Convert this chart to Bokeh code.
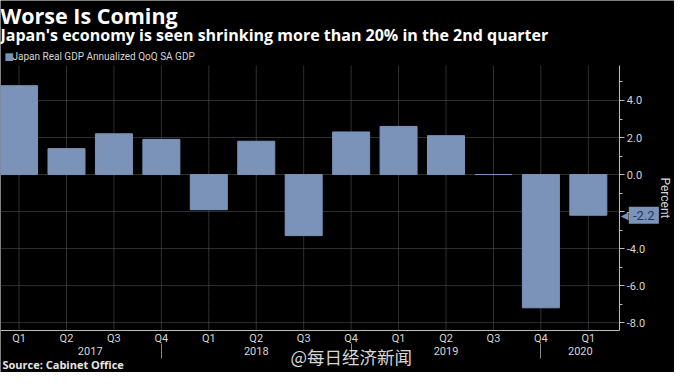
from bokeh.plotting import figure
from bokeh.models import Label, FixedTicker, LinearAxis, Range1d, NumeralTickFormatter
from bokeh.embed import file_html
from bokeh.resources import INLINE

# ---- data ----
quarters = ["Q1", "Q2", "Q3", "Q4", "Q1", "Q2", "Q3", "Q4", "Q1", "Q2", "Q3", "Q4", "Q1"]
years = ["2017", "2018", "2019", "2020"]
gdp = [4.8, 1.4, 2.2, 1.9, -1.9, 1.8, -3.3, 2.3, 2.6, 2.1, 0.0, -7.2, -2.2]
y_ticks = [-8, -6, -4, -2, 0, 2, 4]
y_minor = [-7, -5, -3, -1, 1, 3, 5]
title = "Worse Is Coming"
subtitle = "Japan's economy is seen shrinking more than 20% in the 2nd quarter"
series_name = "Japan Real GDP Annualized QoQ SA GDP"
source = "Source: Cabinet Office"
watermark = "@每日经济新闻"

# ---- style / layout ----
BG = "#000000"
BAR = "#7b93b9"
GRID = "#5e5e5e"
AXIS = "#bdbdbd"
TXT = "#d6d6d6"

W, H = 674, 372
PX_X, PX_Y = 47.44, 18.51          # pixels per quarter / per percentage point
CH_LEFT, CH_RIGHT, CH_TOP = 0.0, 619.3, 65.2   # chart area in canvas px
cx0 = -0.391                        # data x at chart left
cx1 = cx0 + (CH_RIGHT - CH_LEFT) / PX_X
cy1, cy0 = 5.88, -8.42              # data y at chart top / bottom
CH_BOTTOM = CH_TOP + (cy1 - cy0) * PX_Y

X0 = cx0 - CH_LEFT / PX_X
X1 = X0 + W / PX_X
Y1 = cy1 + CH_TOP / PX_Y
Y0 = Y1 - H / PX_Y

def ydata(fig_y):
    return Y1 - fig_y / PX_Y

idx = list(range(len(gdp)))

p = figure(width=W, height=H, output_backend="svg", toolbar_location=None,
           x_range=Range1d(X0, X1), y_range=Range1d(Y0, Y1),
           x_axis_location=None, y_axis_location=None, min_border=0)
p.min_border_left = p.min_border_right = p.min_border_top = p.min_border_bottom = 0
p.background_fill_color = BG
p.border_fill_color = BG
p.outline_line_color = None
p.grid.visible = False

# dotted grid lines inside the chart area
p.segment(x0=idx, x1=idx, y0=[cy0] * len(idx), y1=[cy1] * len(idx),
          line_color=GRID, line_dash="1 1", line_width=1)
p.segment(x0=[cx0] * len(y_ticks), x1=[cx1] * len(y_ticks), y0=y_ticks, y1=y_ticks,
          line_color=GRID, line_dash="1 1", line_width=1)

p.vbar(x=idx, top=gdp, bottom=0, width=0.78, fill_color=BAR, line_color=BAR, line_width=1)

# right axis (fixed at chart edge)
ya = LinearAxis(fixed_location=cx1, bounds=(cy0, cy1),
                ticker=FixedTicker(ticks=y_ticks, minor_ticks=y_minor),
                formatter=NumeralTickFormatter(format="0.0"))
ya.axis_line_color = AXIS
ya.major_tick_line_color = AXIS
ya.minor_tick_line_color = AXIS
ya.major_tick_in = 0
ya.major_tick_out = 5
ya.minor_tick_in = 0
ya.minor_tick_out = 3
ya.major_label_standoff = 2
ya.major_label_text_color = TXT
ya.major_label_text_font = "Roboto"
ya.major_label_text_font_size = "11px"
ya.axis_label = "Percent"
ya.axis_label_text_color = TXT
ya.axis_label_text_font = "Roboto"
ya.axis_label_text_font_style = "normal"
ya.axis_label_text_font_size = "12px"
ya.axis_label_standoff = 10
p.add_layout(ya, "right")

# bottom quarter axis
xa = LinearAxis(fixed_location=cy0, bounds=(cx0, cx1), ticker=FixedTicker(ticks=idx),
                major_label_overrides={i: q for i, q in enumerate(quarters)})
xa.axis_line_color = AXIS
xa.major_tick_in = 0
xa.major_tick_out = 0
xa.minor_tick_line_color = None
xa.major_label_standoff = 2
xa.major_label_text_color = TXT
xa.major_label_text_font = "Roboto"
xa.major_label_text_font_size = "11px"
p.add_layout(xa, "below")

# year axis (separators at each Q4, labels centred in each year's span)
seps = [i for i, q in enumerate(quarters) if q == "Q4"]
bounds = [0] + seps + [cx1]
year_pos = [round((bounds[k] + bounds[k + 1]) / 2, 3) for k in range(len(years))]
yax = LinearAxis(fixed_location=ydata(358), bounds=(cx0, cx1),
                 ticker=FixedTicker(ticks=year_pos, minor_ticks=seps),
                 major_label_overrides={pos: yr for pos, yr in zip(year_pos, years)})
yax.axis_line_color = None
yax.major_tick_line_color = None
yax.major_tick_out = 0
yax.major_tick_in = 0
yax.minor_tick_line_color = "#8a8a8a"
yax.minor_tick_in = 15
yax.minor_tick_out = 0
yax.major_label_standoff = -12
yax.major_label_text_color = TXT
yax.major_label_text_font = "Roboto"
yax.major_label_text_font_size = "11px"
p.add_layout(yax, "below")

# ---- texts (screen units: frame == whole canvas, origin bottom-left) ----
def add_text(text, fx, fy, size, color="#ffffff", bold=False, font="Open Sans", alpha=1.0):
    p.add_layout(Label(x=fx, y=H - fy, x_units="screen", y_units="screen", text=text,
                       text_font=font, text_font_size=f"{size}px", text_color=color,
                       text_alpha=alpha, text_font_style="bold" if bold else "normal",
                       text_baseline="middle", text_align="left"))

add_text(title, 0, 15, 21.5, bold=True)
add_text(subtitle, 0, 34, 16, bold=True)
add_text("■", 4, 56, 10, color=BAR, font="DejaVu Sans")
add_text(series_name, 12, 56, 10, color=TXT, font="Roboto")
add_text(source, 2, 364, 11, bold=True, color="#e6e6e6")
add_text(watermark, 290, 356, 17.5, color="#ffffff", font="Noto Sans CJK SC", alpha=0.85)

# callout for latest value
p.add_layout(Label(x=cx1, y=gdp[-1], x_offset=1, text="◀", text_font="DejaVu Sans",
                   text_font_size="10px", text_color=BAR, text_baseline="middle"))
p.add_layout(Label(x=cx1, y=gdp[-1], x_offset=9, text=f"\u00a0{gdp[-1]:.1f}\u00a0",
                   text_font="Roboto", text_font_size="13px", text_color="#1f3563",
                   text_baseline="middle", background_fill_color=BAR, padding=1))

open("out.html", "w").write(file_html(p, INLINE))
